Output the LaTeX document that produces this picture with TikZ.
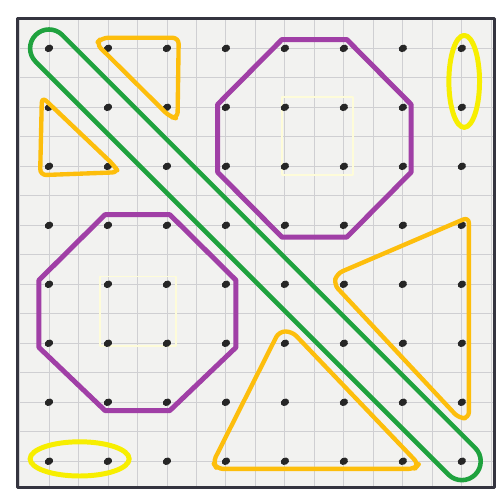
\documentclass[tikz,border=0pt]{standalone}
\usepackage{tikz}
\usetikzlibrary{calc}

\definecolor{framegray}{HTML}{34343F}
\definecolor{papergray}{HTML}{F2F2F0}
\definecolor{gridgray}{HTML}{CFCFD2}
\definecolor{bandgreen}{HTML}{1FA23E}
\definecolor{octpurple}{HTML}{A03FA6}
\definecolor{triorange}{HTML}{FDBE0C}
\definecolor{ovalyellow}{HTML}{F7EE00}

\begin{document}
\begin{tikzpicture}[line join=round,
		dotstyle/.style={fill=black!85},
		greenband/.style={draw=bandgreen, line width=2.2pt},
		octline/.style={draw=octpurple, line width=2.4pt},
		triline/.style={draw=triorange, line width=2.1pt, rounded corners=3pt},
		ovalline/.style={draw=ovalyellow, line width=2.4pt},
		ghostline/.style={draw=ovalyellow!15, line width=0.8pt}]
		\useasboundingbox (-0.83,0.82) rectangle (7.63,-7.52);
		\fill[white] (-0.83,0.82) rectangle (7.63,-7.52);
		
		% paper and frame
		\fill[papergray] (-0.54,0.51) rectangle (7.56,-7.44);
		\draw[gridgray, line width=0.4pt, step=0.5] (-0.54,-7.44) grid (7.56,0.51);
		\draw[framegray, line width=1.5pt] (-0.54,0.51) rectangle (7.56,-7.44);
		
		% faint erased squares
		\draw[ghostline] (3.95,-0.83) rectangle (5.15,-2.15);
		\draw[ghostline] (0.87,-3.87) rectangle (2.15,-5.05);
		
		% dots
		\foreach \i in {0,...,7}
		\foreach \j in {0,...,7}{
			\coordinate (d\i\j) at (\i,-\j);
			\fill[dotstyle, rotate around={30:(d\i\j)}] (d\i\j) ellipse[x radius=2.1pt, y radius=1.7pt];
		}
		
		% diagonal band
		\draw[greenband] (0.226,0.226) -- (7.226,-6.774) arc[start angle=45, end angle=-135, radius=0.32]
		-- (-0.226,-0.226) arc[start angle=225, end angle=45, radius=0.32] -- cycle;
		
		% octagons
		\draw[octline] (3.95,0.15) -- (5.05,0.15) -- (6.14,-0.95) -- (6.14,-2.1) -- (5.05,-3.2)
		-- (3.95,-3.2) -- (2.86,-2.1) -- (2.86,-0.95) -- cycle;
		\draw[octline] (0.95,-2.82) -- (2.05,-2.82) -- (3.17,-3.93) -- (3.17,-5.07) -- (2.05,-6.14)
		-- (0.95,-6.14) -- (-0.17,-5.07) -- (-0.17,-3.93) -- cycle;
		
		% triangles
		\draw[triline] (0.8,0.08) -- (0.9,0.18) -- (2.2,0.18) -- (2.18,-1.19) -- (2.05,-1.16) -- cycle;
		\draw[triline] (-0.12,-0.82) -- (-0.15,-2.15) -- (1.18,-2.1) -- (1.1,-1.98) -- cycle;
		\draw[triline] (7.12,-2.86) -- (7.12,-6.27) -- (6.95,-6.27) -- (4.83,-4.0) -- (4.88,-3.82) -- cycle;
		\draw[triline] (3.9,-4.8) -- (4.12,-4.8) -- (6.27,-7.05) -- (6.2,-7.13) -- (2.85,-7.13) -- (2.78,-7.02) -- cycle;
		
		% ovals
		\draw[ovalline] (7.04,-0.56) ellipse[x radius=0.26, y radius=0.78];
		\draw[ovalline] (0.52,-6.96) ellipse[x radius=0.84, y radius=0.29];
\end{tikzpicture}
\end{document}
